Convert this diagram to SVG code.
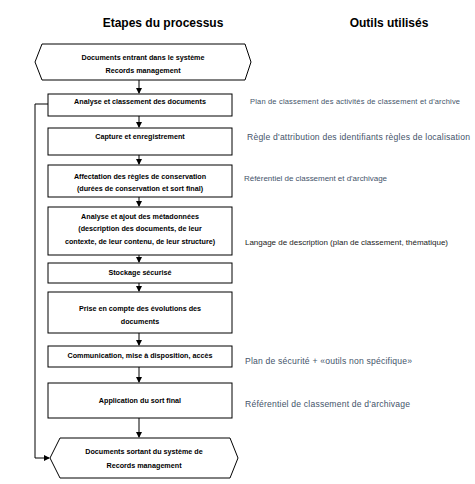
<svg xmlns="http://www.w3.org/2000/svg" width="475" height="484" viewBox="0 0 475 484">
<style>
.h{font-family:"Liberation Sans",Arial,sans-serif;font-weight:bold;font-size:12px;fill:#000;text-anchor:middle}
.n{fill:#fff;stroke:#000;stroke-width:1}
.t{font-family:"Liberation Sans",Arial,sans-serif;font-weight:bold;font-size:7.2px;fill:#000;text-anchor:middle}
.r{font-family:"Liberation Sans",Arial,sans-serif;font-size:8px;fill:#44546a}
.c{fill:none;stroke:#000;stroke-width:1}
</style>
<defs>
<marker id="a" markerWidth="6" markerHeight="6" refX="5" refY="3" orient="auto" markerUnits="userSpaceOnUse">
<path d="M0,0 L6,3 L0,6 Z" fill="#000"/>
</marker>
</defs>
<rect width="475" height="484" fill="#fff"/>
<text class="h" x="163" y="27">Etapes du processus</text>
<text class="h" x="389" y="27">Outils utilisés</text>
<g id="connectors">
<line class="c" x1="139" y1="80" x2="139" y2="93" marker-end="url(#a)"/>
<line class="c" x1="139" y1="116" x2="139" y2="127" marker-end="url(#a)"/>
<line class="c" x1="139" y1="155" x2="139" y2="164" marker-end="url(#a)"/>
<line class="c" x1="139" y1="197" x2="139" y2="206" marker-end="url(#a)"/>
<line class="c" x1="139" y1="255" x2="139" y2="262" marker-end="url(#a)"/>
<line class="c" x1="139" y1="283" x2="139" y2="291" marker-end="url(#a)"/>
<line class="c" x1="139" y1="333" x2="139" y2="345" marker-end="url(#a)"/>
<line class="c" x1="139" y1="367" x2="139" y2="382" marker-end="url(#a)"/>
<line class="c" x1="139" y1="418" x2="139" y2="437" marker-end="url(#a)"/>
<polyline class="c" points="48,104 35,104 35,458 49,458" marker-end="url(#a)"/>
</g>
<g id="n0">
<polygon class="n" points="42,44 245,44 251,62 245,80 42,80 35,62"/>
<text class="t" x="143" y="59.5">Documents entrant dans le système</text>
<text class="t" x="143" y="72.5">Records management</text>
</g>
<g id="n1">
<rect class="n" x="48" y="94" width="184" height="22"/>
<text class="t" x="140" y="104">Analyse et classement des documents</text>
</g>
<g id="n2">
<rect class="n" x="48" y="128" width="184" height="27"/>
<text class="t" x="140" y="139">Capture et enregistrement</text>
</g>
<g id="n3">
<rect class="n" x="48" y="165" width="184" height="32"/>
<text class="t" x="140" y="179">Affectation des règles de conservation</text>
<text class="t" x="140" y="191">(durées de conservation et sort final)</text>
</g>
<g id="n4">
<rect class="n" x="48" y="207" width="184" height="48"/>
<text class="t" x="140" y="219">Analyse  et ajout des métadonnées</text>
<text class="t" x="140" y="231">(description des documents, de leur</text>
<text class="t" x="140" y="244">contexte, de leur contenu, de leur structure)</text>
</g>
<g id="n5">
<rect class="n" x="48" y="263" width="184" height="20"/>
<text class="t" x="140" y="275">Stockage sécurisé</text>
</g>
<g id="n6">
<rect class="n" x="48" y="292" width="184" height="41"/>
<text class="t" x="140" y="311">Prise en compte des évolutions des</text>
<text class="t" x="140" y="324">documents</text>
</g>
<g id="n7">
<rect class="n" x="48" y="346" width="184" height="21"/>
<text class="t" x="140" y="358">Communication, mise à disposition, accès</text>
</g>
<g id="n8">
<rect class="n" x="48" y="383" width="184" height="35"/>
<text class="t" x="140" y="403">Application du sort final</text>
</g>
<g id="n9">
<polygon class="n" points="60,438 230,438 238,458 230,478 60,478 50,458"/>
<text class="t" x="144" y="454">Documents sortant du système de</text>
<text class="t" x="144" y="468">Records management</text>
</g>
<g id="tools">
<text class="r" x="250" y="104" style="font-size:7.5px" textLength="210">Plan de classement des activités de classement et d'archive</text>
<text class="r" x="247" y="140" style="font-size:8.6px" textLength="223">Règle d'attribution des identifiants règles de localisation</text>
<text class="r" x="244" y="181" textLength="143">Référentiel de classement et d'archivage</text>
<text class="r" x="245" y="245" style="fill:#222" textLength="203">Langage de description (plan de classement, thématique)</text>
<text class="r" x="245" y="364" style="font-size:8.6px" textLength="167">Plan de sécurité + «outils non spécifique»</text>
<text class="r" x="245" y="407" style="font-size:8.6px" textLength="165">Référentiel de classement de d'archivage</text>
</g>
</svg>
